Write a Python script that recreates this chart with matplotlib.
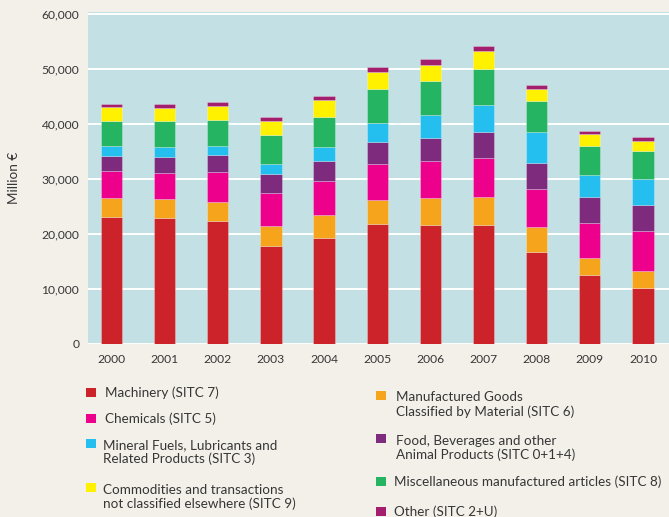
import matplotlib.pyplot as plt
from matplotlib.patches import Rectangle

plt.rcParams['font.family'] = ['Lato', 'DejaVu Sans']

years = ['2000', '2001', '2002', '2003', '2004', '2005', '2006', '2007', '2008', '2009', '2010']

# million euro per group, stacked bottom -> top
machinery = [23120, 22880, 22270, 17800, 19310, 21790, 21610, 21550, 16710, 12470, 10230]
manufactured = [3450, 3390, 3520, 3690, 4050, 4360, 4840, 5200, 4540, 3090, 3030]
chemicals = [4780, 4780, 5380, 5930, 6300, 6470, 6720, 6960, 6960, 6410, 7320]
food = [2730, 2970, 3210, 3450, 3630, 4000, 4300, 4790, 4720, 4720, 4660]
mineral = [1810, 1750, 1570, 1750, 2480, 3510, 4050, 4900, 5570, 4000, 4720]
misc = [4540, 4660, 4730, 5330, 5510, 6170, 6240, 6540, 5690, 5330, 5150]
commodities = [2540, 2480, 2540, 2540, 2970, 3090, 2960, 3200, 2180, 2050, 1810]
other = [670, 610, 660, 730, 720, 850, 970, 970, 720, 550, 610]

series = [machinery, manufactured, chemicals, food, mineral, misc, commodities, other]
colors = ['#cc2229', '#f6a41c', '#ec008c', '#7e2b7d', '#25bfef', '#25b462', '#fff100', '#a31f6e']

labels = {
    'machinery': 'Machinery (SITC 7)',
    'chemicals': 'Chemicals (SITC 5)',
    'mineral': 'Mineral Fuels, Lubricants and\nRelated Products (SITC 3)',
    'commodities': 'Commodities and transactions\nnot classified elsewhere (SITC 9)',
    'manufactured': 'Manufactured Goods\nClassified by Material (SITC 6)',
    'food': 'Food, Beverages and other\nAnimal Products (SITC 0+1+4)',
    'misc': 'Miscellaneous manufactured articles (SITC 8)',
    'other': 'Other (SITC 2+U)',
}

txt = '#363636'
W, H = 669, 517
fig = plt.figure(figsize=(W / 100, H / 100), dpi=100, facecolor='#f3f0e9')
ax = fig.add_axes([87.5 / W, 173 / H, 1 - 87.5 / W, 332 / H])
ax.set_facecolor('#c3e0e5')

x = list(range(len(years)))
bottom = [0] * len(years)
for vals, c in zip(series, colors):
    ax.bar(x, vals, 0.4, bottom=bottom, color=c, edgecolor=(1, 1, 1, 0.3), linewidth=0.6, zorder=3)
    bottom = [b + v for b, v in zip(bottom, vals)]

ax.set_xlim(-0.45, 10.49)
ax.set_ylim(0, 60300)
ax.set_yticks(range(0, 60001, 10000))
ax.set_yticklabels(['{:,}'.format(v) for v in range(0, 60001, 10000)])
ax.set_xticks(x)
ax.set_xticklabels(years)
ax.grid(axis='y', color='white', linewidth=1.4, zorder=1)
ax.set_axisbelow(True)
for s in ax.spines.values():
    s.set_visible(False)
ax.tick_params(axis='both', length=0, labelsize=8.7, labelcolor=txt)
ax.tick_params(axis='x', pad=7)
ax.tick_params(axis='y', pad=6)
fig.text(14 / W, 1 - 178 / H, 'Million €', rotation=90, ha='center', va='center', fontsize=9.7, color=txt)

# legend, drawn by hand in two columns
def key(px, py, color, name, ty, tx):
    fig.add_artist(Rectangle((px / W, 1 - (py + 9) / H), 9.5 / W, 9 / H,
                             transform=fig.transFigure, facecolor=color, edgecolor='none'))
    fig.text(tx / W, 1 - ty / H, labels[name], ha='left', va='center', fontsize=9.7,
             color=txt, linespacing=1.2)

key(86, 388, colors[0], 'machinery', 393, 105)
key(86, 414, colors[2], 'chemicals', 419, 105)
key(86, 438.5, colors[4], 'mineral', 452, 103)
key(86, 483, colors[6], 'commodities', 497, 103)
key(376, 391, colors[1], 'manufactured', 404.5, 396)
key(376, 434, colors[3], 'food', 448, 396)
key(376, 477, colors[5], 'misc', 482, 394)
key(376, 507, colors[7], 'other', 512, 394)

fig.savefig('out.png', dpi=100, facecolor=fig.get_facecolor())
